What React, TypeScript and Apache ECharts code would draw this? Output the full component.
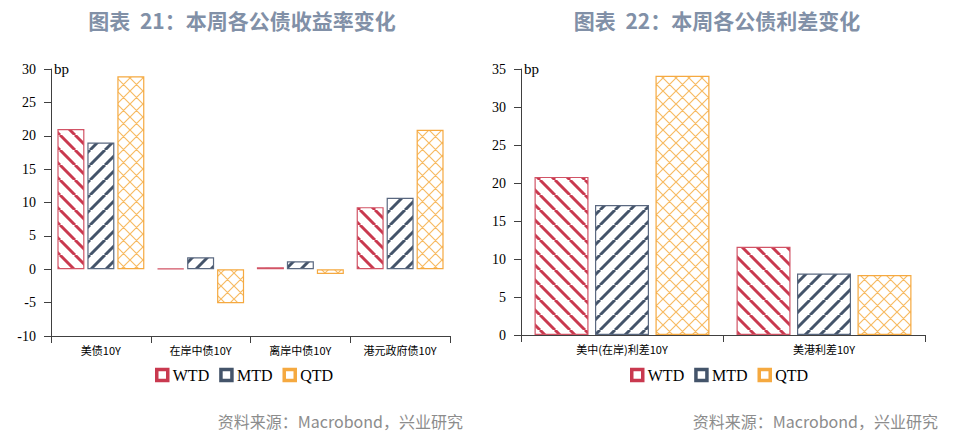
import { useEffect, useRef } from 'react';
import * as echarts from 'echarts';

const yieldCategories = ['美债10Y', '在岸中债10Y', '离岸中债10Y', '港元政府债10Y'];
const yieldWTD = [21, 0.1, 0.3, 9.3];
const yieldMTD = [19, 1.8, 1.2, 10.7];
const yieldQTD = [28.9, -5.1, -0.7, 20.9];

const spreadCategories = ['美中(在岸)利差10Y', '美港利差10Y'];
const spreadWTD = [20.8, 11.6];
const spreadMTD = [17.1, 8.1];
const spreadQTD = [34.1, 7.9];

const seriesNames = ['WTD', 'MTD', 'QTD'];

const RED = '#C9394F';
const NAVY = '#44546A';
const ORANGE = '#F5A940';

// small tile with diagonal stripes or a cross hatch, used as a bar fill
function makePattern(kind: 'back' | 'fwd' | 'cross', color: string) {
  const size = kind === 'cross' ? 13 : 15;
  const c = document.createElement('canvas');
  c.width = size;
  c.height = size;
  const ctx = c.getContext('2d')!;
  ctx.fillStyle = '#ffffff';
  ctx.fillRect(0, 0, size, size);
  ctx.strokeStyle = color;
  ctx.lineWidth = kind === 'cross' ? 1.2 : 3;
  ctx.beginPath();
  for (let k = -1; k <= 1; k++) {
    if (kind === 'back' || kind === 'cross') {
      ctx.moveTo(k * size, 0);
      ctx.lineTo(k * size + size, size);
    }
    if (kind === 'fwd' || kind === 'cross') {
      ctx.moveTo(k * size, size);
      ctx.lineTo(k * size + size, 0);
    }
  }
  ctx.stroke();
  return { image: c, repeat: 'repeat', imageWidth: size, imageHeight: size } as any;
}

export default function App() {
  const chartRef = useRef<HTMLDivElement>(null);

  useEffect(() => {
    if (!chartRef.current) return;
    const chart = echarts.init(chartRef.current, null, { renderer: 'svg' });

    const fills = [
      makePattern('back', RED),
      makePattern('fwd', NAVY),
      makePattern('cross', '#F7BB63'),
    ];
    const borders = ['#D25466', '#5A6880', ORANGE];
    const solid = [RED, NAVY, ORANGE];

    const serif = 'Liberation Serif, Times New Roman, serif';
    const cjk = 'Noto Sans CJK SC, sans-serif';

    const valueAxis = (gridIndex: number, min: number, max: number) => ({
      type: 'value' as const,
      gridIndex,
      min,
      max,
      interval: 5,
      name: 'bp',
      nameLocation: 'end' as const,
      nameGap: 0,
      nameTextStyle: {
        fontFamily: serif,
        fontSize: 15,
        color: '#000',
        align: 'left' as const,
        verticalAlign: 'middle' as const,
        padding: [0, 0, 0, 3],
      },
      axisLine: { show: true, lineStyle: { color: '#404040', width: 1 } },
      axisTick: { show: true, length: 7, lineStyle: { color: '#404040' } },
      splitLine: { show: false },
      axisLabel: { fontFamily: serif, fontSize: 14, color: '#000', margin: 15 },
    });

    const categoryAxis = (gridIndex: number, data: string[]) => ({
      type: 'category' as const,
      gridIndex,
      data,
      axisLine: { onZero: false, lineStyle: { color: '#404040', width: 1 } },
      axisTick: { show: true, length: 7, alignWithLabel: false, lineStyle: { color: '#404040' } },
      axisLabel: { fontFamily: cjk, fontSize: 11, color: '#000', margin: 8, interval: 0 },
    });

    const makeSeries = (axisIndex: number, values: number[][], barWidth: number, barGap: string) =>
      values.map((v, i) => ({
        name: seriesNames[i],
        type: 'bar' as const,
        xAxisIndex: axisIndex,
        yAxisIndex: axisIndex,
        data: v,
        barWidth,
        barGap,
        itemStyle: { color: fills[i], borderColor: borders[i], borderWidth: 1.2 },
      }));

    // legend keys: coloured square with a white centre, like the original
    const legendItems = seriesNames.map((name, i) => ({
      name,
      itemStyle: { color: '#fff', borderColor: solid[i], borderWidth: 3.5 },
    }));

    const legendBase = {
      data: legendItems,
      icon: 'rect',
      itemWidth: 11,
      itemHeight: 11,
      itemGap: 10,
      top: 362,
      textStyle: { fontFamily: serif, fontSize: 16, color: '#000' },
    };

    const titleStyle = { fontFamily: cjk, fontSize: 21, fontWeight: 'bold' as const, color: '#8190A7' };
    const sourceText = '资料来源：Macrobond，兴业研究';

    chart.setOption({
      animation: false,
      backgroundColor: '#fff',
      title: [
        { text: '图表  21：本周各公债收益率变化', left: 237, top: 4, textAlign: 'center', textStyle: titleStyle },
        { text: '图表  22：本周各公债利差变化', left: 712, top: 4, textAlign: 'center', textStyle: titleStyle },
      ],
      legend: [
        { ...legendBase, left: 150 },
        { ...legendBase, left: 625 },
      ],
      grid: [
        { left: 51, top: 69, width: 399, height: 267 },
        { left: 521, top: 69, width: 404, height: 266 },
      ],
      xAxis: [categoryAxis(0, yieldCategories), categoryAxis(1, spreadCategories)],
      yAxis: [valueAxis(0, -10, 30), valueAxis(1, 0, 35)],
      series: [
        ...makeSeries(0, [yieldWTD, yieldMTD, yieldQTD], 27, '11%'),
        ...makeSeries(1, [spreadWTD, spreadMTD, spreadQTD], 54, '12%'),
      ],
      graphic: [
        {
          type: 'text',
          right: 964 - 463,
          top: 413,
          style: { text: sourceText, fontFamily: cjk, fontSize: 16, fill: '#8C8C8C' },
        },
        {
          type: 'text',
          right: 964 - 938,
          top: 413,
          style: { text: sourceText, fontFamily: cjk, fontSize: 16, fill: '#8C8C8C' },
        },
      ],
    });

    return () => {
      chart.dispose();
    };
  }, []);

  return (
    <div
      ref={chartRef}
      style={{ position: 'fixed', left: 0, top: 0, width: 964, height: 440, background: '#fff' }}
    />
  );
}
